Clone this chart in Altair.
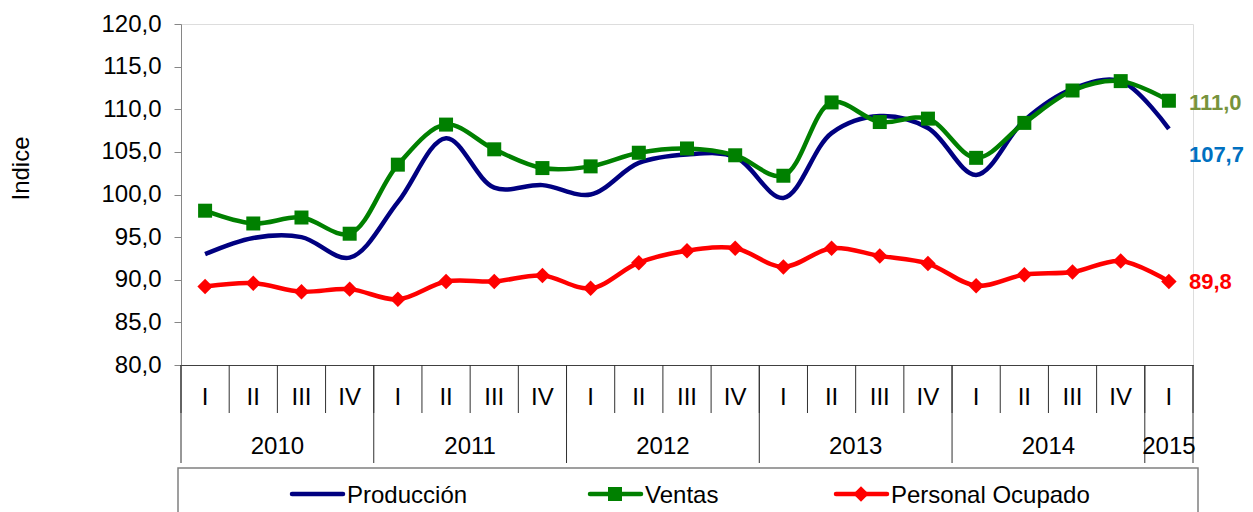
import altair as alt
import pandas as pd

# ---- data ----
quarters = ["I", "II", "III", "IV"] * 5 + ["I"]
years = ["2010"] * 4 + ["2011"] * 4 + ["2012"] * 4 + ["2013"] * 4 + ["2014"] * 4 + ["2015"]
produccion = [93.0, 94.9, 95.0, 92.6, 99.1, 106.6, 100.8, 101.1, 100.0, 103.7, 104.7,
              104.4, 99.6, 107.2, 109.2, 107.8, 102.3, 108.7, 112.4, 113.3, 107.7]
ventas = [98.1, 96.6, 97.3, 95.4, 103.5, 108.2, 105.3, 103.1, 103.3, 104.9, 105.4,
          104.6, 102.2, 110.8, 108.5, 108.9, 104.3, 108.4, 112.2, 113.3, 111.0]
personal = [89.2, 89.6, 88.6, 88.9, 87.7, 89.8, 89.8, 90.5, 89.0, 92.0, 93.4,
            93.7, 91.5, 93.7, 92.8, 91.9, 89.3, 90.6, 90.9, 92.2, 89.8]
series_names = ["Producción", "Ventas", "Personal Ocupado"]
series_colors = ["#000080", "#008000", "#FF0000"]

n = len(quarters)
qdf = pd.DataFrame({"idx": list(range(n)), "quarter": quarters, "year": years})
long = pd.concat([
    pd.DataFrame({"idx": range(n), "serie": name, "value": vals})
    for name, vals in zip(series_names, [produccion, ventas, personal])
], ignore_index=True)

qsep = pd.DataFrame({"b": [i - 0.5 for i in range(n + 1)]})
first_idx = qdf.groupby("year")["idx"].min().tolist()
ysep = pd.DataFrame({"b": [i - 0.5 for i in first_idx] + [n - 0.5]})

W, H = 1012, 341
FONT = "Liberation Sans"
one = pd.DataFrame({"a": [0]})

xs = alt.Scale(domain=[-0.5, n - 0.5], nice=False, zero=False)
ys = alt.Scale(domain=[80, 120], nice=False, zero=False)
x_axis = alt.Axis(labels=False, ticks=False, grid=False, title=None,
                  domain=True, domainColor="#404040", domainWidth=1)
color_scale = alt.Scale(domain=series_names, range=series_colors)

y_axis = alt.Axis(
    values=list(range(80, 121, 5)),
    labelExpr="replace(format(datum.value, '.1f'), '.', ',')",
    labelFontSize=24, labelFont=FONT, labelColor="#000000", labelPadding=13,
    tickSize=7, tickColor="#868686", domainColor="#868686", grid=False,
    title="Indice", titleFontSize=24, titleFont=FONT, titleFontWeight="normal",
    titleColor="#000000", titleX=-160, titleY=144, titleAlign="center",
    titleBaseline="middle",
)

lines = alt.Chart(long).mark_line(interpolate="catmull-rom", strokeWidth=4.5).encode(
    x=alt.X("idx:Q", scale=xs, axis=x_axis),
    y=alt.Y("value:Q", scale=ys, axis=y_axis),
    color=alt.Color("serie:N", scale=color_scale, legend=None),
    detail="serie:N",
)

pts_v = alt.Chart(long).transform_filter("datum.serie === 'Ventas'").mark_point(
    shape="square", filled=True, size=196, color=series_colors[1], opacity=1
).encode(x=alt.X("idx:Q", scale=xs, axis=x_axis), y=alt.Y("value:Q", scale=ys))

pts_p = alt.Chart(long).transform_filter("datum.serie === 'Personal Ocupado'").mark_point(
    shape="diamond", filled=True, size=240, color=series_colors[2], opacity=1
).encode(x=alt.X("idx:Q", scale=xs, axis=x_axis), y=alt.Y("value:Q", scale=ys))

def end_label(name, color, dy):
    return alt.Chart(long).transform_filter(
        f"datum.serie === '{name}' && datum.idx === {n - 1}"
    ).transform_calculate(
        lab="replace(format(datum.value, '.1f'), '.', ',')"
    ).mark_text(
        align="left", baseline="middle", dx=20, dy=dy, fontSize=22,
        fontWeight="bold", font=FONT, color=color
    ).encode(x=alt.X("idx:Q", scale=xs, axis=x_axis), y=alt.Y("value:Q", scale=ys),
             text="lab:N")

lab_v = end_label("Ventas", "#77933C", 2)
lab_pr = end_label("Producción", "#0070C0", 26)
lab_pe = end_label("Personal Ocupado", "#FF0000", 1)

qrules = alt.Chart(qsep).mark_rule(color="#303030", strokeWidth=1).encode(
    x=alt.X("b:Q", scale=xs, axis=x_axis), y=alt.value(H), y2=alt.value(H + 48))
yrules = alt.Chart(ysep).mark_rule(color="#303030", strokeWidth=1).encode(
    x=alt.X("b:Q", scale=xs, axis=x_axis), y=alt.value(H), y2=alt.value(H + 98))

qlabels = alt.Chart(qdf).mark_text(fontSize=24, font=FONT, color="#000000",
                                   baseline="middle").encode(
    x=alt.X("idx:Q", scale=xs, axis=x_axis), y=alt.value(H + 33), text="quarter:N")
ylabels = alt.Chart(qdf).mark_text(fontSize=24, font=FONT, color="#000000",
                                   baseline="middle").encode(
    x=alt.X("mean(idx):Q", scale=xs, axis=x_axis), y=alt.value(H + 82), text="year:N")

# ---- legend (drawn below the category table, inside a box) ----
box = alt.Chart(one).mark_rect(
    filled=False, stroke="#808080", strokeWidth=1.5
).encode(x=alt.value(-3), x2=alt.value(1017), y=alt.value(444), y2=alt.value(H + 160))

LEG_Y = 470
leg_x0 = [111, 409, 655]
legend_layers = []
for i, (name, col) in enumerate(zip(series_names, series_colors)):
    x0 = leg_x0[i]
    legend_layers.append(alt.Chart(one).mark_rule(
        color=col, strokeWidth=4.5, strokeCap="round").encode(
        x=alt.value(x0), x2=alt.value(x0 + 51), y=alt.value(LEG_Y)))
    if i == 1:
        legend_layers.append(alt.Chart(one).mark_point(
            shape="square", filled=True, size=196, color=col, opacity=1).encode(
            x=alt.value(x0 + 25), y=alt.value(LEG_Y)))
    if i == 2:
        legend_layers.append(alt.Chart(one).mark_point(
            shape="diamond", filled=True, size=240, color=col, opacity=1).encode(
            x=alt.value(x0 + 25), y=alt.value(LEG_Y)))
    legend_layers.append(alt.Chart(one).mark_text(
        align="left", baseline="middle", fontSize=24, font=FONT, color="#000000").encode(
        x=alt.value(x0 + 55), y=alt.value(LEG_Y + 2), text=alt.value(name)))

chart = alt.layer(
    box, qrules, yrules, qlabels, ylabels, lines, pts_v, pts_p,
    lab_v, lab_pr, lab_pe, *legend_layers
).properties(
    width=W, height=H,
    autosize=alt.AutoSizeParams(type="none"),
    padding={"left": 173, "top": 16, "right": 52, "bottom": 147},
).configure_view(stroke=None).configure(font=FONT)

chart.save("out.html", embed_options={"renderer": "svg", "actions": False})
